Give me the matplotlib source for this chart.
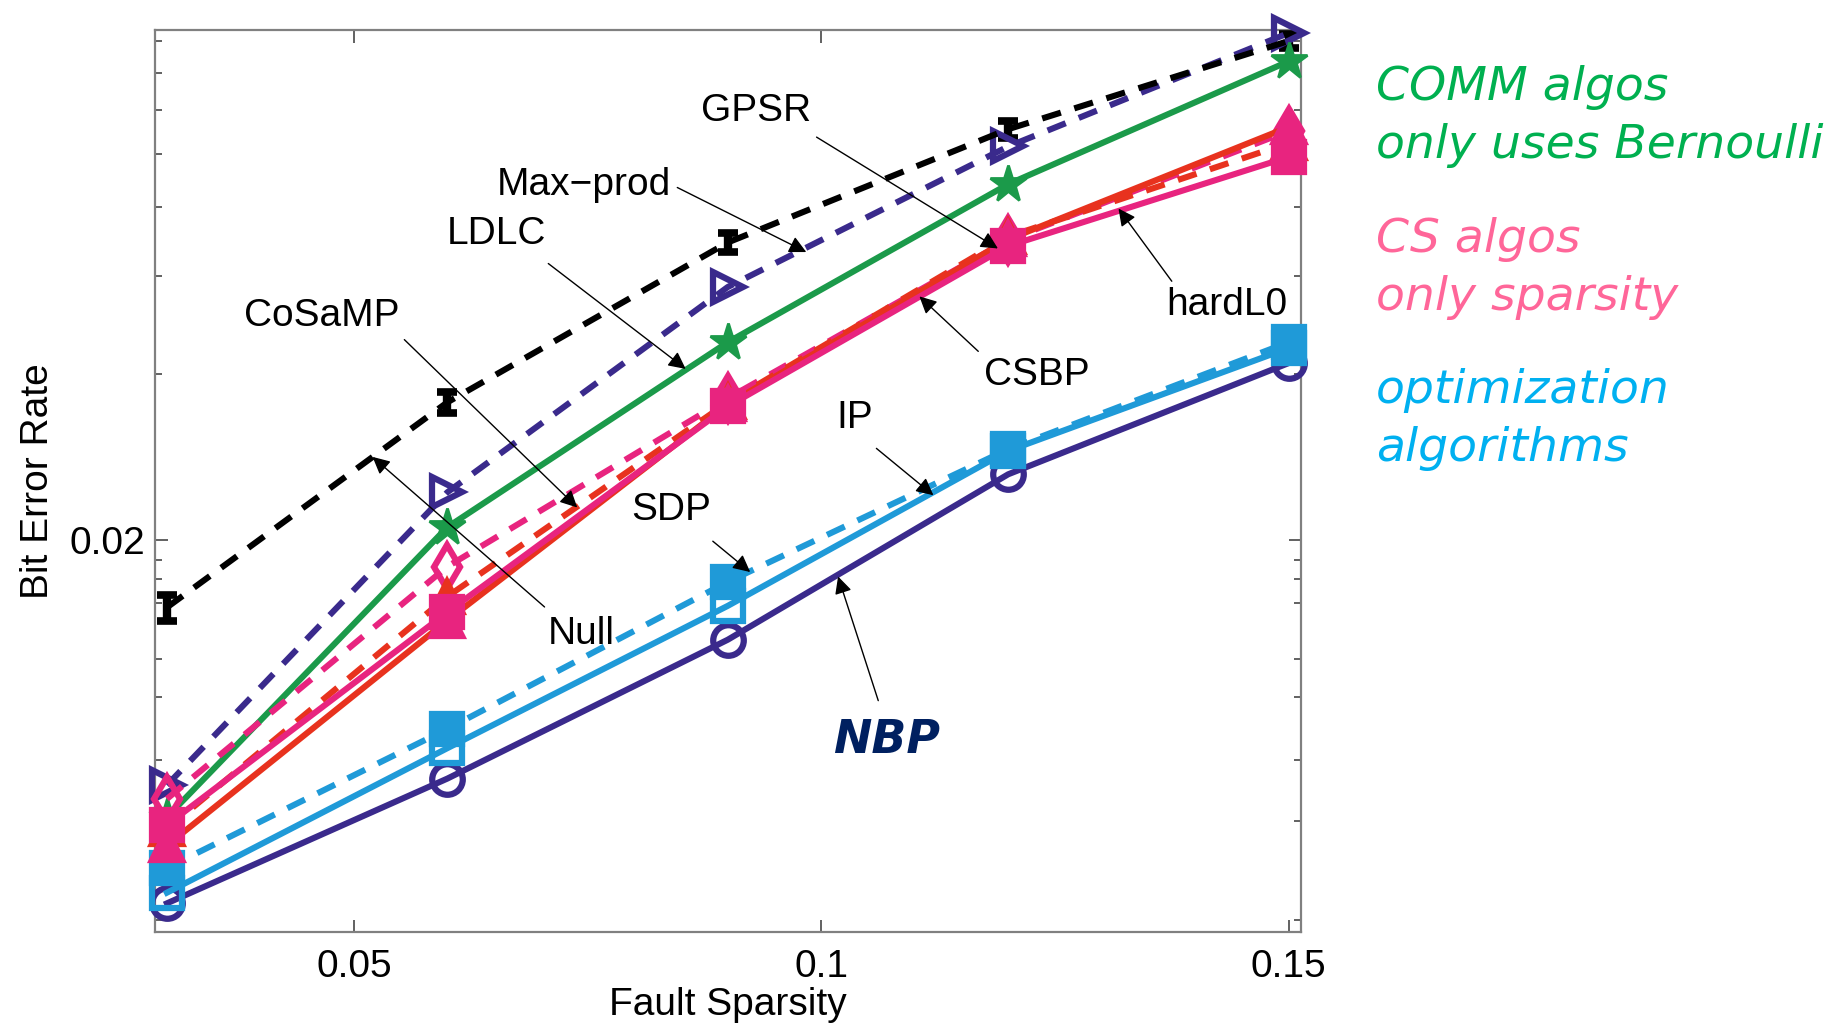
import matplotlib

matplotlib.use("Agg")

import matplotlib.pyplot as plt
from matplotlib.ticker import NullFormatter, NullLocator

# fault sparsity levels on the x axis
fault_sparsity = [0.03, 0.06, 0.09, 0.12, 0.15]

# bit error rate per algorithm
ber_null = [0.0151, 0.0355, 0.0691, 0.1108, 0.160]
ber_null_err = [0.0008, 0.0015, 0.0028, 0.0040, 0.0045]
ber_maxprod = [0.0072, 0.0244, 0.0574, 0.1031, 0.1654]
ber_ldlc = [0.0063, 0.0211, 0.0456, 0.0881, 0.147]
ber_cosamp = [0.0068, 0.0179, 0.0361, 0.0698, 0.110]
ber_csbp = [0.0060, 0.0158, 0.0355, 0.0708, 0.1046]
ber_gpsr = [0.0056, 0.0143, 0.0352, 0.0700, 0.1118]
ber_hardl0 = [0.0061, 0.0148, 0.0349, 0.0681, 0.0987]
ber_sdp = [0.0051, 0.0091, 0.0168, 0.0292, 0.0456]
ber_ip = [0.0046, 0.0084, 0.0152, 0.0290, 0.0445]
ber_nbp = [0.0044, 0.0074, 0.0132, 0.0263, 0.0418]

x_ticks = [0.05, 0.1, 0.15]
x_tick_labels = ["0.05", "0.1", "0.15"]
y_major_ticks = [0.02]
y_major_labels = ["0.02"]
y_minor_ticks = [0.0041, 0.0062, 0.008, 0.0104, 0.0122, 0.0154, 0.017, 0.0184,
                 0.04, 0.06, 0.08, 0.10, 0.12, 0.14, 0.16]

PURPLE = "#3a2a8c"
GREEN = "#1b9a4a"
PINK = "#e8247f"
RED = "#e8321e"
CYAN = "#1f9ad8"
DASH = (0, (3.2, 2.3))


def draw_series(axis):
    line_kw = dict(lw=4.4, ms=22, mew=4.5, clip_on=False, zorder=3)
    axis.errorbar(
        fault_sparsity, ber_null, yerr=ber_null_err, color="black",
        ls=DASH, lw=4.4, capsize=7, capthick=5.5, elinewidth=6,
        clip_on=False, zorder=3,
    )
    axis.plot(fault_sparsity, ber_maxprod, color=PURPLE, ls=DASH, marker=">",
              mfc="none", mec=PURPLE, **line_kw)
    axis.plot(fault_sparsity, ber_ldlc, color=GREEN, ls="-", marker="*",
              mfc=GREEN, mec=GREEN, **{**line_kw, "ms": 28, "mew": 2})
    axis.plot(fault_sparsity, ber_nbp, color=PURPLE, ls="-", marker="o",
              mfc="none", mec=PURPLE, **line_kw)
    axis.plot(fault_sparsity, ber_ip, color=CYAN, ls="-", marker="s",
              mfc="none", mec=CYAN, **line_kw)
    axis.plot(fault_sparsity, ber_sdp, color=CYAN, ls=DASH, marker="s",
              mfc=CYAN, mec=CYAN, **line_kw)
    axis.plot(fault_sparsity, ber_cosamp, color=PINK, ls=DASH, marker="d",
              mfc="none", mec=PINK, **line_kw)
    axis.plot(fault_sparsity, ber_csbp, color=RED, ls=DASH, marker="^",
              mfc=RED, mec=RED, **line_kw)
    axis.plot(fault_sparsity, ber_gpsr, color=RED, ls="-", marker="^",
              mfc=PINK, mec=PINK, **line_kw)
    axis.plot(fault_sparsity, ber_hardl0, color=PINK, ls="-", marker="s",
              mfc=PINK, mec=PINK, **line_kw)


def draw_callouts(axis):
    # (label, text position, arrow tail, arrow head) in data coordinates
    callouts = [
        ("GPSR", (0.0930, 0.1193), (0.0995, 0.1072), (0.1189, 0.0674)),
        ("Max\u2212prod", (0.0746, 0.0878), (0.0846, 0.0869), (0.0984, 0.0664)),
        ("LDLC", (0.0653, 0.0715), (0.0708, 0.0633), (0.0855, 0.0408)),
        ("CoSaMP", (0.0466, 0.0508), (0.0554, 0.0461), (0.0739, 0.0229)),
        ("hardL0", (0.1434, 0.0533), (0.1375, 0.0588), (0.1318, 0.0796)),
        ("CSBP", (0.1231, 0.0398), (0.1168, 0.0439), (0.1105, 0.0552)),
        ("IP", (0.1036, 0.0332), (0.1059, 0.0293), (0.1120, 0.0241)),
        ("SDP", (0.0840, 0.0227), (0.0884, 0.0199), (0.0924, 0.0175)),
        ("Null", (0.0743, 0.01353), (0.0704, 0.01513), (0.0520, 0.02828)),
        ("", None, (0.1061, 0.01024), (0.1018, 0.01718)),
    ]
    for label, text_xy, tail, head in callouts:
        if text_xy is not None:
            axis.text(*text_xy, label, fontsize=28, ha="center", va="center",
                      zorder=5)
        axis.annotate(
            "", xy=head, xytext=tail,
            arrowprops=dict(arrowstyle="-|>", color="black", lw=1.0,
                            mutation_scale=26, shrinkA=0, shrinkB=0),
            zorder=5,
        )
    axis.text(0.1070, 0.00867, "NBP", fontsize=33, fontweight="bold",
              fontstyle="italic", family="DejaVu Sans", color="#002060",
              ha="center", va="center")


def main() -> None:
    plt.rcParams["font.family"] = ["Liberation Sans", "DejaVu Sans"]
    figure = plt.figure(figsize=(18.37, 10.28), dpi=100)
    axis = figure.add_axes([0.0844, 0.0934, 0.6238, 0.8774])
    axis.set_yscale("log")

    draw_series(axis)
    draw_callouts(axis)

    axis.set_xlim(0.02873, 0.15132)
    axis.set_ylim(0.003905, 0.1675)
    axis.set_xticks(x_ticks)
    axis.set_xticklabels(x_tick_labels)
    axis.xaxis.set_minor_locator(NullLocator())
    axis.set_yticks(y_major_ticks)
    axis.set_yticklabels(y_major_labels)
    axis.set_yticks(y_minor_ticks, minor=True)
    axis.yaxis.set_minor_formatter(NullFormatter())
    axis.tick_params(which="both", direction="in", top=True, right=True,
                     color="#555555", width=1.3, labelsize=28)
    axis.tick_params(which="major", length=9)
    axis.tick_params(which="minor", length=5)
    axis.tick_params(axis="x", pad=12)
    axis.tick_params(axis="y", pad=7)
    for spine in axis.spines.values():
        spine.set_color("#808080")
        spine.set_linewidth(1.6)

    axis.set_xlabel("Fault Sparsity", fontsize=28, labelpad=2)
    axis.set_ylabel("Bit Error Rate", fontsize=28, labelpad=10)

    notes = [
        ("COMM algos", 100, "#00b050"),
        ("only uses Bernoulli", 158, "#00b050"),
        ("CS algos", 252, "#ff6699"),
        ("only sparsity", 310, "#ff6699"),
        ("optimization", 403, "#00b0f0"),
        ("algorithms", 461, "#00b0f0"),
    ]
    for text, baseline_px, color in notes:
        figure.text(1376 / 1837, 1 - baseline_px / 1028, text, fontsize=34,
                    fontstyle="italic", family="DejaVu Sans", color=color,
                    ha="left", va="baseline")

    figure.savefig("out.png", dpi=100)
    plt.close(figure)


if __name__ == "__main__":
    main()
